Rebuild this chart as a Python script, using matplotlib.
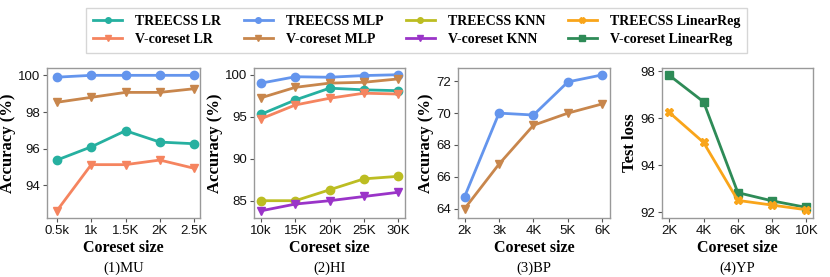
import matplotlib
matplotlib.use("Agg")
import matplotlib.pyplot as plt
from matplotlib.lines import Line2D

# data
MU_X = ["0.5k", "1k", "1.5K", "2K", "2.5K"]
MU_TREE_LR = [95.38, 96.1, 96.98, 96.36, 96.27]
MU_VCORE_LR = [92.62, 95.13, 95.13, 95.38, 94.93]
MU_TREE_MLP = [99.9, 100.0, 100.0, 100.0, 100.0]
MU_VCORE_MLP = [98.53, 98.8, 99.07, 99.07, 99.27]

HI_X = ["10k", "15K", "20K", "25K", "30K"]
HI_TREE_MLP = [99.0, 99.76, 99.7, 99.9, 100.0]
HI_VCORE_MLP = [97.26, 98.5, 99.0, 99.1, 99.5]
HI_TREE_LR = [95.3, 97.0, 98.4, 98.2, 98.1]
HI_VCORE_LR = [94.76, 96.4, 97.2, 97.8, 97.7]
HI_TREE_KNN = [85.0, 85.0, 86.3, 87.6, 87.9]
HI_VCORE_KNN = [83.8, 84.6, 85.0, 85.5, 86.0]

BP_X = ["2k", "3k", "4K", "5K", "6K"]
BP_TREE_MLP = [64.75, 70.0, 69.88, 71.96, 72.4]
BP_VCORE_MLP = [64.0, 66.8, 69.24, 70.0, 70.58]

YP_X = ["2K", "4K", "6K", "8K", "10K"]
YP_TREE_LIN = [96.25, 94.97, 92.5, 92.3, 92.1]
YP_VCORE_LIN = [97.83, 96.7, 92.83, 92.48, 92.2]

STYLE = {
    "TREECSS LR": ("#26b0a0", "o"),
    "V-coreset LR": ("#f5845f", "v"),
    "TREECSS MLP": ("#6495ed", "o"),
    "V-coreset MLP": ("#c8864c", "v"),
    "TREECSS KNN": ("#bcbd22", "o"),
    "V-coreset KNN": ("#9a34c8", "v"),
    "TREECSS LinearReg": ("#f9a51a", "X"),
    "V-coreset LinearReg": ("#2e8b57", "s"),
}

SERIF = ["Liberation Serif", "DejaVu Serif"]
SANS = ["Liberation Sans", "DejaVu Sans"]

fig = plt.figure(figsize=(8.3, 2.77), dpi=100)

lefts = [47, 254, 458, 662]
widths = [153, 151, 152, 151]
top_px, bot_px = 68, 218

panels = [
    (MU_X, [("TREECSS MLP", MU_TREE_MLP), ("V-coreset MLP", MU_VCORE_MLP),
            ("TREECSS LR", MU_TREE_LR), ("V-coreset LR", MU_VCORE_LR)],
     (92.22, 100.4), [94, 96, 98, 100], "Accuracy (%)", "(1)MU", (-0.29, 4.17)),
    (HI_X, [("TREECSS MLP", HI_TREE_MLP), ("V-coreset MLP", HI_VCORE_MLP),
            ("TREECSS LR", HI_TREE_LR), ("V-coreset LR", HI_VCORE_LR),
            ("TREECSS KNN", HI_TREE_KNN), ("V-coreset KNN", HI_VCORE_KNN)],
     (82.94, 100.8), [85, 90, 95, 100], "Accuracy (%)", "(2)HI", (-0.21, 4.2)),
    (BP_X, [("TREECSS MLP", BP_TREE_MLP), ("V-coreset MLP", BP_VCORE_MLP)],
     (63.42, 72.83), [64, 66, 68, 70, 72], "Accuracy (%)", "(3)BP", (-0.19, 4.22)),
    (YP_X, [("V-coreset LinearReg", YP_VCORE_LIN), ("TREECSS LinearReg", YP_TREE_LIN)],
     (91.75, 98.14), [92, 94, 96, 98], "Test loss", "(4)YP", (-0.21, 4.19)),
]

for i, (xt, series, ylim, yticks, ylab, sub, xlim) in enumerate(panels):
    ax = fig.add_axes([lefts[i] / 830, 1 - bot_px / 277,
                       widths[i] / 830, (bot_px - top_px) / 277])
    xs = list(range(len(xt)))
    for name, vals in series:
        c, m = STYLE[name]
        ax.plot(xs, vals, color=c, marker=m, lw=2, ms=6, zorder=3)
    ax.set_xlim(*xlim)
    ax.set_ylim(*ylim)
    ax.set_xticks(xs)
    ax.set_xticklabels(xt, family=SANS, fontsize=9.5)
    ax.set_yticks(yticks)
    ax.set_yticklabels([str(t) for t in yticks], family=SANS, fontsize=9.5)
    ax.tick_params(length=3, width=0.8, color="#555555", pad=2, labelcolor="#111111")
    for sp in ax.spines.values():
        sp.set_color("#999999")
        sp.set_linewidth(1)
    ax.set_xlabel("Coreset size", family=SERIF, fontweight="bold", fontsize=11.5, labelpad=2)
    ax.set_ylabel(ylab, family=SERIF, fontweight="bold", fontsize=12, labelpad=1.5)
    ax.text(0.5, -0.335, sub, transform=ax.transAxes, ha="center", va="center",
            family=SERIF, fontsize=10.5)

order = ["TREECSS LR", "V-coreset LR", "TREECSS MLP", "V-coreset MLP",
         "TREECSS KNN", "V-coreset KNN", "TREECSS LinearReg", "V-coreset LinearReg"]
handles = [Line2D([], [], color=STYLE[n][0], marker=STYLE[n][1], lw=2, ms=4) for n in order]
leg = fig.legend(handles, order, loc="upper center", bbox_to_anchor=(0.502, 0.995),
                 ncol=4, frameon=True, fancybox=False, handlelength=2.1,
                 columnspacing=1.6, handletextpad=0.95, labelspacing=0.35,
                 borderpad=0.5, prop={"family": SERIF, "weight": "bold", "size": 10})
leg.get_frame().set_edgecolor("#cccccc")
leg.get_frame().set_linewidth(1)

fig.savefig("out.png", dpi=100, facecolor="white")
